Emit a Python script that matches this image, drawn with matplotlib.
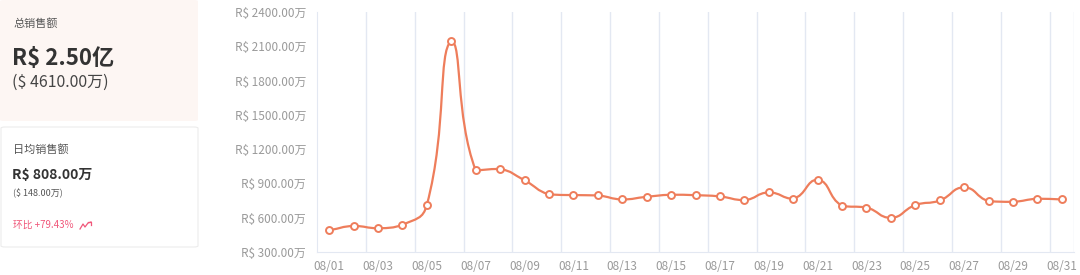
import numpy as np
import matplotlib
matplotlib.use("Agg")
import matplotlib.pyplot as plt
from matplotlib.path import Path
from matplotlib.patches import PathPatch, FancyBboxPatch
from matplotlib.lines import Line2D

plt.rcParams['font.family'] = ['Noto Sans CJK SC', 'DejaVu Sans']

# daily sales, unit: 万 (R$)
days = ["08/%02d" % d for d in range(1, 32)]
sales = [490, 528, 508, 537, 713, 2145, 1014, 1027, 927, 804,
         798, 795, 760, 783, 801, 797, 786, 754, 821, 766,
         933, 704, 689, 599, 710, 751, 865, 745, 739, 766, 760]
yticks = [300, 600, 900, 1200, 1500, 1800, 2100, 2400]

total_label = "R$ 2.50亿"
total_usd = "($ 4610.00万)"
avg_label = "R$ 808.00万"
avg_usd = "($ 148.00万)"
ratio_label = "环比 +79.43%"

LINE = "#ee7d5b"
GRID = "#e3e8f2"
TICK = "#9a9a9a"

W, H = 1080, 275
fig = plt.figure(figsize=(W / 100, H / 100), dpi=100)


def fx(px):
    return px / W


def fy(py):
    return 1 - py / H


# ---- left cards ----
card1 = FancyBboxPatch((fx(0), fy(121)), fx(198), 121 / H,
                       boxstyle="round,pad=0,rounding_size=0.004",
                       transform=fig.transFigure, facecolor="#fdf6f3",
                       edgecolor="none")
fig.add_artist(card1)
card2 = FancyBboxPatch((fx(1), fy(247)), fx(197), 120 / H,
                       boxstyle="round,pad=0,rounding_size=0.004",
                       transform=fig.transFigure, facecolor="white",
                       edgecolor="#ececec", linewidth=0.8)
fig.add_artist(card2)

fig.text(fx(13), fy(24), "总销售额", fontsize=8, color="#555555", va="center")
fig.text(fx(12), fy(58), total_label, fontsize=16, color="#333333",
         fontweight="bold", va="center")
fig.text(fx(12), fy(82), total_usd, fontsize=11.5, color="#444444", va="center")

fig.text(fx(13), fy(150), "日均销售额", fontsize=8, color="#555555", va="center")
fig.text(fx(12), fy(175), avg_label, fontsize=10, color="#333333",
         fontweight="bold", va="center")
fig.text(fx(13), fy(193), avg_usd, fontsize=6.5, color="#555555", va="center")
fig.text(fx(13), fy(225), ratio_label, fontsize=7, color="#f0577a", va="center")
# small trend icon
fig.add_artist(Line2D([fx(80), fx(83), fx(85), fx(88), fx(91)],
                      [fy(229), fy(224), fy(227), fy(223), fy(222)],
                      transform=fig.transFigure, color="#f0577a", lw=0.9))
fig.add_artist(Line2D([fx(88), fx(91), fx(91)],
                      [fy(222), fy(222), fy(225)],
                      transform=fig.transFigure, color="#f0577a", lw=0.9))

# ---- chart ----
ax = fig.add_axes([fx(317), fy(252), fx(1074 - 317), (252 - 12) / H])
ax.set_xlim(0, len(days))
ax.set_ylim(yticks[0], yticks[-1])

for s in ["top", "right"]:
    ax.spines[s].set_visible(False)
ax.spines["left"].set_color(GRID)
ax.spines["bottom"].set_color(GRID)

for b in list(range(2, len(days), 2)) + [len(days)]:
    ax.axvline(b, color=GRID, lw=1, zorder=0)

xpos = np.arange(len(days)) + 0.5
ax.set_xticks(xpos[::2])
ax.set_xticklabels(days[::2])
ax.set_yticks(yticks)
ax.set_yticklabels(["R$ %.2f万" % v for v in yticks])
ax.tick_params(axis="both", length=0, colors=TICK, labelsize=8.5)
ax.tick_params(axis="x", pad=6)
ax.tick_params(axis="y", pad=8)

# smooth curve (bezier through the points, built in pixel space,
# control points kept between neighbouring values so nothing overshoots)
fig.canvas.draw()
pts = ax.transData.transform(np.column_stack([xpos, sales]))
smooth = 0.5
n = len(pts)
cps = []
for i in range(n):
    prev = pts[i - 1] if i > 0 else pts[i]
    nxt = pts[i + 1] if i < n - 1 else pts[i]
    v = (nxt - prev) * smooth
    d0 = np.hypot(*(pts[i] - prev))
    d1 = np.hypot(*(nxt - pts[i]))
    tot = d0 + d1 if d0 + d1 > 0 else 1
    c0 = pts[i] - v * d0 / tot
    c1 = pts[i] + v * d1 / tot
    c0[1] = np.clip(c0[1], min(prev[1], pts[i][1]), max(prev[1], pts[i][1]))
    c1[1] = np.clip(c1[1], min(nxt[1], pts[i][1]), max(nxt[1], pts[i][1]))
    cps.append((c0, c1))
verts = [pts[0]]
codes = [Path.MOVETO]
for i in range(n - 1):
    verts += [cps[i][1], cps[i + 1][0], pts[i + 1]]
    codes += [Path.CURVE4] * 3
path = Path(ax.transData.inverted().transform(np.array(verts)), codes)
ax.add_patch(PathPatch(path, facecolor="none", edgecolor=LINE, lw=1.6, zorder=2))

ax.plot(xpos, sales, linestyle="none", marker="o", markersize=5,
        markerfacecolor="white", markeredgecolor=LINE, markeredgewidth=1.4,
        zorder=3, clip_on=False)

fig.savefig("out.png", dpi=100)
